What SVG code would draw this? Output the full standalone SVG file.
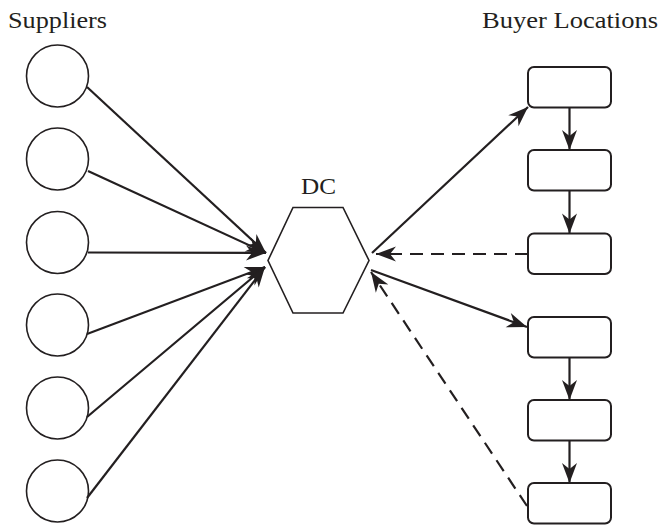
<svg xmlns="http://www.w3.org/2000/svg" width="659" height="526" viewBox="0 0 659 526">
<style>
.lbl{font-family:"Liberation Serif","Times New Roman",serif;font-size:24px;fill:#231f20}
.sup{fill:#fff;stroke:#231f20;stroke-width:1.6}
.buy{fill:#fff;stroke:#231f20;stroke-width:2}
.dc{fill:#fff;stroke:#231f20;stroke-width:1.6}
.ln{stroke:#231f20;stroke-width:2.2;fill:none;marker-end:url(#ah)}
.dash{stroke-dasharray:13 8}
</style>
<defs>
<marker id="ah" markerUnits="userSpaceOnUse" viewBox="-21 -9 22 18" refX="0" refY="0" markerWidth="22" markerHeight="18" orient="auto" overflow="visible">
<path d="M0,0 L-20,-7.5 L-14,0 L-20,7.5 Z" fill="#231f20"/>
</marker>
</defs>
<text class="lbl" x="8" y="28" textLength="99" lengthAdjust="spacingAndGlyphs">Suppliers</text>
<text class="lbl" x="482" y="28" textLength="176" lengthAdjust="spacingAndGlyphs">Buyer Locations</text>
<g id="suppliers">
<circle id="s1" class="sup" cx="57.5" cy="76" r="31"/>
<circle id="s2" class="sup" cx="57.5" cy="159" r="31"/>
<circle id="s3" class="sup" cx="57.5" cy="242.5" r="31"/>
<circle id="s4" class="sup" cx="57.5" cy="325" r="31"/>
<circle id="s5" class="sup" cx="57.5" cy="408" r="31"/>
<circle id="s6" class="sup" cx="57.5" cy="491" r="31"/>
</g>
<g id="dc">
<polygon class="dc" points="293,207.5 343,207.5 369,260.5 343,313 293,313 268,260.5"/>
<text class="lbl" x="301" y="194" textLength="35" lengthAdjust="spacingAndGlyphs">DC</text>
</g>
<g id="buyers">
<rect id="b1" class="buy" x="528" y="67" width="83" height="40.5" rx="6"/>
<rect id="b2" class="buy" x="528" y="150" width="83" height="40.5" rx="6"/>
<rect id="b3" class="buy" x="528" y="233.5" width="83" height="40.5" rx="6"/>
<rect id="b4" class="buy" x="528" y="317" width="83" height="40.5" rx="6"/>
<rect id="b5" class="buy" x="528" y="400" width="83" height="40.5" rx="6"/>
<rect id="b6" class="buy" x="528" y="483" width="83" height="40.5" rx="6"/>
</g>
<g id="connectors">
<line class="ln" x1="87" y1="87" x2="266" y2="253"/>
<line class="ln" x1="88" y1="171" x2="266" y2="253"/>
<line class="ln" x1="88" y1="252.5" x2="266" y2="253"/>
<line class="ln" x1="87" y1="334" x2="265" y2="267"/>
<line class="ln" x1="87" y1="417" x2="265" y2="267"/>
<line class="ln" x1="87" y1="498" x2="265" y2="267"/>
<line class="ln" x1="372" y1="253" x2="528" y2="107"/>
<line class="ln dash" x1="528" y1="254" x2="376" y2="254"/>
<line class="ln" x1="371" y1="270" x2="527" y2="327"/>
<line class="ln dash" x1="527" y1="506" x2="371" y2="272"/>
<line class="ln" x1="569.5" y1="107.5" x2="569.5" y2="150"/>
<line class="ln" x1="569.5" y1="190.5" x2="569.5" y2="233.5"/>
<line class="ln" x1="569.5" y1="357.5" x2="569.5" y2="400"/>
<line class="ln" x1="569.5" y1="440.5" x2="569.5" y2="483"/>
</g>
</svg>
